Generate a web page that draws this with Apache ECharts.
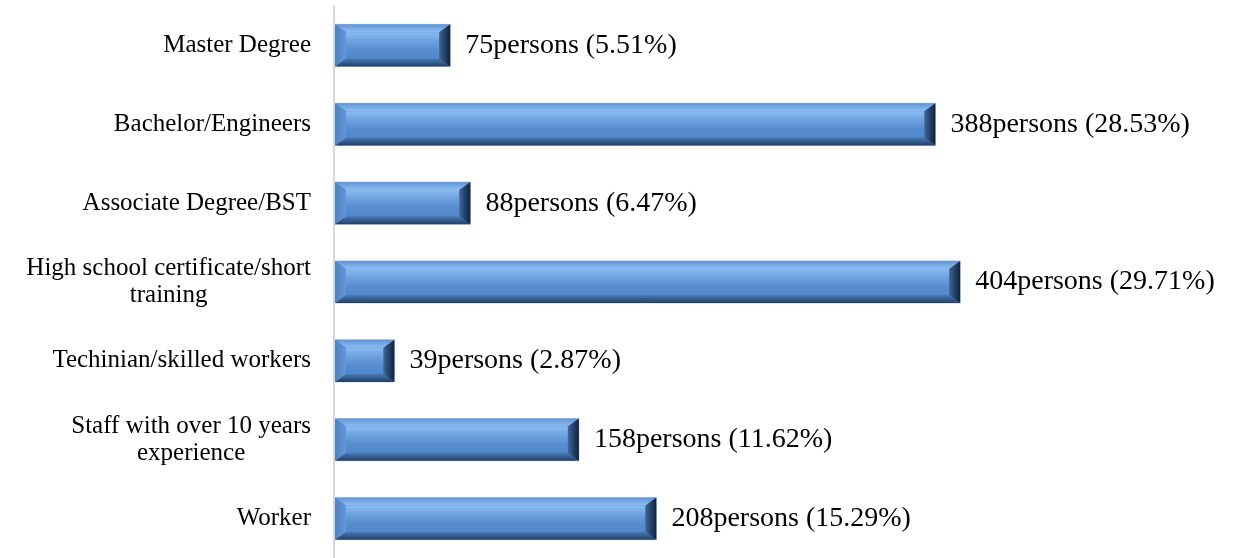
<!DOCTYPE html>
<html>
<head>
<meta charset="utf-8">
<script src="https://cdn.jsdelivr.net/npm/echarts@6/dist/echarts.min.js"></script>
<style>html,body{margin:0;padding:0;background:#fff}#c{width:1233px;height:558px}</style>
</head>
<body>
<div id="c"></div>
<script>
const categories = ['Master Degree', 'Bachelor/Engineers', 'Associate Degree/BST', 'High school certificate/short\ntraining', 'Techinian/skilled workers', 'Staff with over 10 years\nexperience', 'Worker'];
const persons = [75, 388, 88, 404, 39, 158, 208];
const percents = ['5.51%', '28.53%', '6.47%', '29.71%', '2.87%', '11.62%', '15.29%'];

const chart = echarts.init(document.getElementById('c'), null, {renderer: 'canvas'});
const data = persons.map((v, i) => [v, i]);

function grad(x0, y0, x1, y1, stops) {
  return new echarts.graphic.LinearGradient(x0, y0, x1, y1, stops.map((c, i) => ({offset: i / (stops.length - 1), color: c})));
}

chart.setOption({
  animation: false,
  grid: {left: 334, top: 6, width: 775, height: 559},
  xAxis: {type: 'value', min: 0, max: 500, show: false},
  yAxis: {
    type: 'category', data: categories, inverse: true,
    axisLine: {show: true, lineStyle: {color: '#d9d9d9', width: 2}},
    axisTick: {show: false},
    axisLabel: {
      margin: 23, color: '#000', fontFamily: 'Liberation Serif', fontSize: 25, lineHeight: 27,
      formatter: v => v.split('\n').map(l => '{c|' + l + '}').join('\n'),
      rich: {c: {align: 'center', fontFamily: 'Liberation Serif', fontSize: 25, lineHeight: 27, color: '#000'}}
    }
  },
  series: [{
    type: 'custom',
    encode: {x: 0, y: 1},
    data: data,
    renderItem: function (params, api) {
      const val = api.value(0), idx = api.value(1);
      const s = api.coord([0, idx]), e = api.coord([val, idx]);
      const band = api.size([0, 1])[1];
      const h = band * 0.535;
      const x0 = s[0] + 1, x1 = e[0], yc = s[1];
      const y0 = yc - h / 2, y1 = yc + h / 2;
      const bx = Math.min(11, (x1 - x0) / 4), by = 8;
      return {
        type: 'group',
        children: [
          {type: 'rect', shape: {x: x0, y: y0, width: x1 - x0, height: h},
           style: {fill: '#4f84c6', stroke: '#c5d3e6', lineWidth: 1}},
          {type: 'polygon', shape: {points: [[x0, y0], [x1, y0], [x1 - bx, y0 + by], [x0 + bx, y0 + by]]},
           style: {fill: grad(0, 0, 0, 1, ['#5f93d3', '#79aae6', '#8cbcf0'])}},
          {type: 'rect', shape: {x: x0 + bx, y: y0 + by, width: x1 - x0 - 2 * bx, height: h - 2 * by},
           style: {fill: grad(0, 0, 0, 1, ['#8bbbef', '#6ea1e0', '#578dcf', '#5189cc'])}},
          {type: 'polygon', shape: {points: [[x0, y1], [x1, y1], [x1 - bx, y1 - by], [x0 + bx, y1 - by]]},
           style: {fill: grad(0, 0, 0, 1, ['#4a7ab6', '#335d8f', '#203f66'])}},
          {type: 'polygon', shape: {points: [[x0, y0], [x0 + bx, y0 + by], [x0 + bx, y1 - by], [x0, y1]]},
           style: {fill: grad(0, 0, 1, 0, ['#4d82c4', '#6198d8'])}},
          {type: 'polygon', shape: {points: [[x1, y0], [x1 - bx, y0 + by], [x1 - bx, y1 - by], [x1, y1]]},
           style: {fill: grad(0, 0, 1, 0, ['#3f6797', '#25426a', '#11223a'])}},
          {type: 'text', x: x1 + 15, y: yc,
           style: {text: persons[idx] + 'persons (' + percents[idx] + ')', fill: '#000',
                   font: '28px "Liberation Serif"', verticalAlign: 'middle', align: 'left'}}
        ]
      };
    }
  }]
});
</script>
</body>
</html>
